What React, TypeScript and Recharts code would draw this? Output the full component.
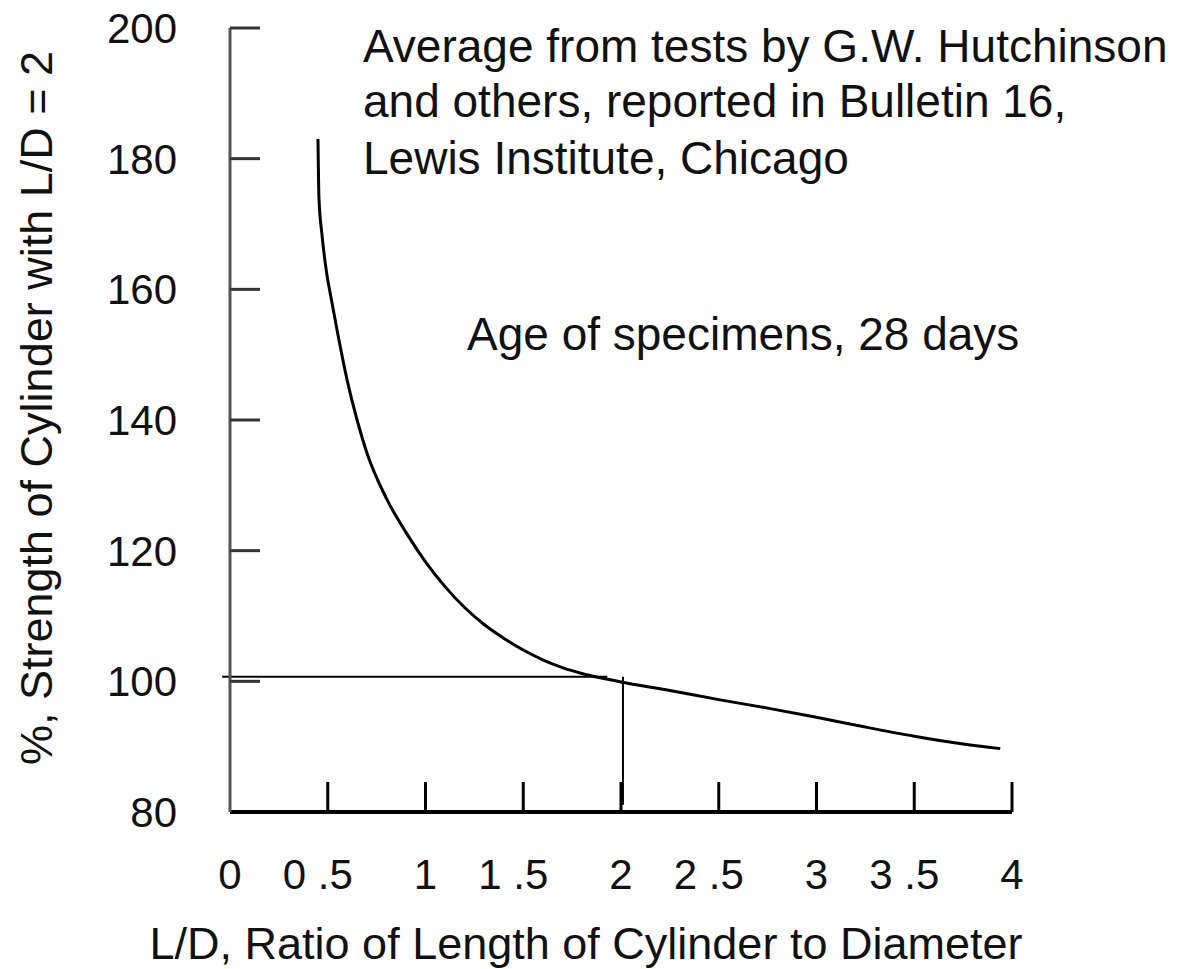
import React from "react";
import { LineChart, Line, XAxis, YAxis, ReferenceLine } from "recharts";

// ─── Data ────────────────────────────────────────────────────────────────────
const ldRatio = [
  0.45, 0.455, 0.47, 0.49, 0.52, 0.55, 0.6, 0.65, 0.7, 0.8, 0.9, 1.0, 1.1, 1.2, 1.3,
  1.4, 1.5, 1.6, 1.7, 1.8, 1.9, 2.0, 2.25, 2.5, 2.75, 3.0, 3.25, 3.5, 3.75, 3.94,
];
const strengthPct = [
  183, 174, 168.5, 163.4, 158.2, 153.4, 146, 140, 135, 128, 122.8, 118.3, 114.5, 111.3, 108.7,
  106.6, 104.8, 103.3, 102.1, 101.2, 100.5, 99.9, 98.6, 97.2, 95.9, 94.5, 93.0, 91.6, 90.4, 89.7,
];
const xTicks = [0, 0.5, 1, 1.5, 2, 2.5, 3, 3.5, 4];
const xTickLabels = ["0", "0 .5", "1", "1 .5", "2", "2 .5", "3", "3 .5", "4"];
const yTicks = [80, 100, 120, 140, 160, 180, 200];

// guide lines to L/D = 2, 100 %
const guideY = 100.7;
const guideX = 2.01;

const data = ldRatio.map((x, i) => ({ x, y: strengthPct[i] }));

const FONT = '"Liberation Sans", Arial, sans-serif';

// ─── Ticks: inward tick marks + labels ───────────────────────────────────────
const YTick = ({ x, y, payload }: any) => (
  <g>
    {payload.value !== 80 && (
      <line x1={x} y1={y} x2={x + 30} y2={y} stroke="#333" strokeWidth={3} />
    )}
    <text x={x - 53} y={y} dy={15} textAnchor="end" fontSize={42} fontFamily={FONT} fill="#111">
      {payload.value}
    </text>
  </g>
);

const XTick = ({ x, y, payload }: any) => {
  const i = xTicks.indexOf(payload.value);
  const label = xTickLabels[i] ?? String(payload.value);
  const shift = label.includes(" .") ? -10 : 0;
  return (
    <g>
      {payload.value !== 0 && (
        <line x1={x} y1={y} x2={x} y2={y - 30} stroke="#000" strokeWidth={3} />
      )}
      <text x={x + shift} y={y + 77} textAnchor="middle" fontSize={42} fontFamily={FONT} fill="#111">
        {label}
      </text>
    </g>
  );
};

export default function App() {
  return (
    <div style={{ position: "absolute", left: 0, top: 0, width: 1188, height: 969, background: "#fff" }}>
      <LineChart
        width={1188}
        height={969}
        data={data}
        margin={{ top: 28, right: 176, bottom: 57, left: 100 }}
      >
        <XAxis
          type="number"
          dataKey="x"
          domain={[0, 4]}
          ticks={xTicks}
          interval={0}
          height={100}
          tickSize={0}
          tickMargin={0}
          tickLine={false}
          axisLine={{ stroke: "#000", strokeWidth: 4 }}
          tick={<XTick />}
        />
        <YAxis
          type="number"
          domain={[80, 200]}
          ticks={yTicks}
          interval={0}
          width={130}
          tickSize={0}
          tickMargin={0}
          tickLine={false}
          axisLine={{ stroke: "#555", strokeWidth: 3 }}
          tick={<YTick />}
        />
        <ReferenceLine
          segment={[{ x: -0.04, y: guideY }, { x: 1.93, y: guideY }]}
          ifOverflow="visible"
          stroke="#000"
          strokeWidth={2}
        />
        <ReferenceLine
          segment={[{ x: guideX, y: guideY }, { x: guideX, y: 81.1 }]}
          ifOverflow="visible"
          stroke="#000"
          strokeWidth={2}
        />
        <Line
          type="monotone"
          dataKey="y"
          stroke="#000"
          strokeWidth={3}
          dot={false}
          activeDot={false}
          isAnimationActive={false}
        />
      </LineChart>

      {/* ── Annotations and axis titles ─────────────────────────────────── */}
      <svg
        width={1188}
        height={969}
        style={{ position: "absolute", left: 0, top: 0, pointerEvents: "none" }}
        fontFamily={FONT}
        fontSize={45}
        fill="#111"
      >
        <g fontSize={46}>
          <text x={363} y={62}>Average from tests by G.W. Hutchinson</text>
          <text x={363} y={117}>and others, reported in Bulletin 16,</text>
          <text x={363} y={174}>Lewis Institute, Chicago</text>
          <text x={467} y={350}>Age of specimens, 28 days</text>
        </g>
        <text x={586} y={959} textAnchor="middle">
          L/D, Ratio of Length of Cylinder to Diameter
        </text>
        <text x={52} y={408} textAnchor="middle" transform="rotate(-90 52 408)">
          %, Strength of Cylinder with L/D = 2
        </text>
      </svg>
    </div>
  );
}
